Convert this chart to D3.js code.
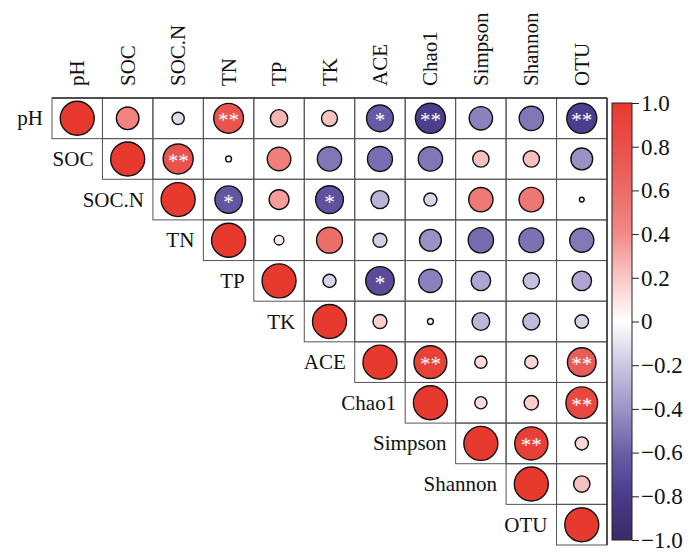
<!DOCTYPE html>
<html>
<head>
<meta charset="utf-8">
<script src="https://cdn.jsdelivr.net/npm/d3@7"></script>
<style>
  body { margin: 0; background: #fff; }
  text { font-family: "Liberation Serif", "Times New Roman", serif; fill: #111; }
</style>
</head>
<body>
<svg id="chart" width="700" height="560"></svg>
<script>
const vars = ["pH", "SOC", "SOC.N", "TN", "TP", "TK", "ACE", "Chao1", "Simpson", "Shannon", "OTU"];

// upper triangle, each row starts at its diagonal
const corrRows = [
  [1, 0.44, -0.13, 0.77, 0.26, 0.22, -0.62, -0.78, -0.47, -0.51, -0.78],
  [1, 0.78, 0.03, 0.48, -0.51, -0.54, -0.51, 0.23, 0.23, -0.41],
  [1, -0.65, 0.34, -0.67, -0.28, -0.15, 0.51, 0.52, -0.02],
  [1, 0.08, 0.58, -0.17, -0.41, -0.55, -0.53, -0.5],
  [1, -0.15, -0.7, -0.47, -0.33, -0.23, -0.33],
  [1, 0.17, -0.03, -0.27, -0.25, -0.16],
  [1, 0.93, 0.13, 0.15, 0.71],
  [1, 0.13, 0.18, 0.87],
  [1, 0.95, 0.15],
  [1, 0.23],
  [1]
];

const sigRows = [
  ["", "", "", "**", "", "", "*", "**", "", "", "**"],
  ["", "**", "", "", "", "", "", "", "", ""],
  ["", "*", "", "*", "", "", "", "", ""],
  ["", "", "", "", "", "", "", ""],
  ["", "", "*", "", "", "", ""],
  ["", "", "", "", "", ""],
  ["", "**", "", "", "**"],
  ["", "", "", "**"],
  ["", "**", ""],
  ["", ""],
  [""]
];

const legendTicks = [1, 0.8, 0.6, 0.4, 0.2, 0, -0.2, -0.4, -0.6, -0.8, -1];
const colorStops = [-1, -0.8, -0.6, -0.4, -0.2, 0, 0.2, 0.4, 0.6, 0.8, 1];
const colorValues = ["#3a2a68", "#4a3a8a", "#6a5ea8", "#9d94c7", "#cdc6e2", "#ffffff",
                     "#f8c8c6", "#f28a88", "#ec6b66", "#e9504a", "#e8392f"];

const svg = d3.select("#chart");

const x = d3.scaleBand().domain(vars).range([52, 607]);
const y = d3.scaleBand().domain(vars).range([98, 545]);

const color = d3.scaleLinear().domain(colorStops).range(colorValues);

const radius = d3.scaleSqrt().domain([0, 1]).range([0, 17]);

const cells = [];
corrRows.forEach((row, i) => {
  row.forEach((v, k) => {
    const j = i + k;
    cells.push({ row: vars[i], col: vars[j], value: v, sig: sigRows[i][k] });
  });
});

const grid = svg.append("g");

grid.selectAll("rect")
  .data(cells)
  .enter()
  .append("rect")
  .attr("x", (d) => x(d.col))
  .attr("y", (d) => y(d.row))
  .attr("width", x.bandwidth())
  .attr("height", y.bandwidth())
  .attr("fill", "none")
  .attr("stroke", "#555")
  .attr("stroke-width", 1);

// outer border of the upper triangle a bit darker
grid.append("line")
  .attr("x1", x.range()[0]).attr("x2", x.range()[1])
  .attr("y1", y.range()[0]).attr("y2", y.range()[0])
  .attr("stroke", "#333").attr("stroke-width", 1.5);
grid.append("line")
  .attr("x1", x.range()[1]).attr("x2", x.range()[1])
  .attr("y1", y.range()[0]).attr("y2", y.range()[1])
  .attr("stroke", "#333").attr("stroke-width", 1.5);

grid.selectAll("circle")
  .data(cells)
  .enter()
  .append("circle")
  .attr("cx", (d) => x(d.col) + x.bandwidth() / 2)
  .attr("cy", (d) => y(d.row) + y.bandwidth() / 2)
  .attr("r", (d) => radius(Math.abs(d.value)))
  .attr("fill", (d) => color(d.value))
  .attr("stroke", "#111")
  .attr("stroke-width", 1.4);

grid.selectAll(".sig")
  .data(cells.filter((d) => d.sig))
  .enter()
  .append("text")
  .attr("class", "sig")
  .attr("x", (d) => x(d.col) + x.bandwidth() / 2)
  .attr("y", (d) => y(d.row) + y.bandwidth() / 2 + 9)
  .attr("text-anchor", "middle")
  .style("fill", "#fff")
  .attr("font-size", "21px")
  .text((d) => d.sig);

// column labels, rotated
svg.append("g")
  .selectAll("text")
  .data(vars)
  .enter()
  .append("text")
  .attr("transform", (d) => `translate(${x(d) + x.bandwidth() / 2 + 7},86) rotate(-90)`)
  .attr("font-size", "21px")
  .text((d) => d);

// row labels next to the diagonal
svg.append("g")
  .selectAll("text")
  .data(vars)
  .enter()
  .append("text")
  .attr("x", (d) => x(d) - 9)
  .attr("y", (d) => y(d) + y.bandwidth() / 2 + 7)
  .attr("text-anchor", "end")
  .attr("font-size", "21px")
  .text((d) => d);

// colour bar
const barX = 612, barW = 20;
const barScale = d3.scaleLinear().domain([1, -1]).range([103, 540]);

const defs = svg.append("defs");
const grad = defs.append("linearGradient")
  .attr("id", "cbar")
  .attr("x1", 0).attr("x2", 0).attr("y1", 0).attr("y2", 1);
grad.selectAll("stop")
  .data(d3.range(0, 1.0001, 0.025))
  .enter()
  .append("stop")
  .attr("offset", (t) => t)
  .attr("stop-color", (t) => color(1 - 2 * t));

svg.append("rect")
  .attr("x", barX)
  .attr("y", barScale(1))
  .attr("width", barW)
  .attr("height", barScale(-1) - barScale(1))
  .attr("fill", "url(#cbar)")
  .attr("stroke", "#222")
  .attr("stroke-width", 1);

const axis = d3.axisRight(barScale)
  .tickValues(legendTicks)
  .tickSize(7)
  .tickPadding(2)
  .tickFormat((d) => (d === 0 ? "0" : d3.format(".1f")(d).replace("-", "\u2212")));

const axisG = svg.append("g")
  .attr("transform", `translate(${barX + barW},0)`)
  .call(axis);
axisG.select(".domain").remove();
axisG.selectAll("line").attr("stroke", "#222");
axisG.selectAll("text")
  .attr("font-family", "Liberation Serif, serif")
  .attr("font-size", "23px")
  .attr("fill", "#111");
</script>
</body>
</html>
